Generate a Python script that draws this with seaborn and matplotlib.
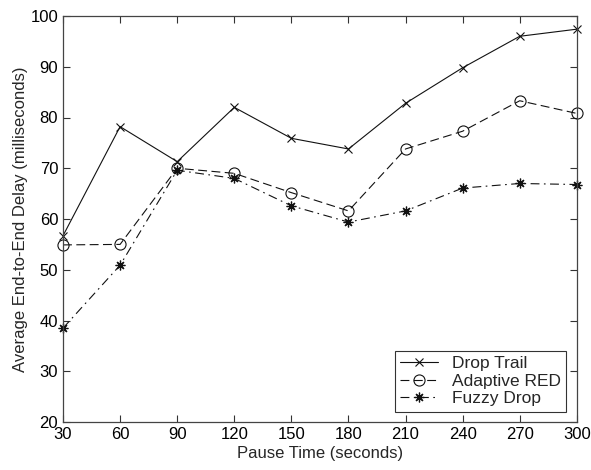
import numpy as np
import pandas as pd
import seaborn as sns
import matplotlib.pyplot as plt

pause = [30, 60, 90, 120, 150, 180, 210, 240, 270, 300]
drop_trail = [56.7, 78.2, 71.3, 82.0, 75.9, 73.8, 82.8, 89.8, 96.0, 97.4]
adaptive_red = [54.9, 55.0, 70.0, 69.0, 65.2, 61.6, 73.8, 77.3, 83.3, 80.8]
fuzzy_drop = [38.5, 50.9, 69.6, 68.0, 62.6, 59.4, 61.6, 66.1, 67.0, 66.8]

sns.set_style("ticks")
plt.rcParams['font.family'] = ['Liberation Sans', 'DejaVu Sans']

fig = plt.figure(figsize=(5.91, 4.70), dpi=100)
ax = fig.add_axes([0.1066, 0.102, 0.8694, 0.864])

col = '#111111'
sns.lineplot(x=pause, y=drop_trail, ax=ax, color=col, lw=0.8, marker='x',
             markersize=5.5, markeredgecolor=col, markeredgewidth=0.8,
             label='Drop Trail', clip_on=False)
sns.lineplot(x=pause, y=adaptive_red, ax=ax, color=col, lw=0.8, marker='o',
             markersize=8, markerfacecolor='none', markeredgecolor=col,
             markeredgewidth=0.8, dashes=(8, 4), label='Adaptive RED',
             clip_on=False)
sns.lineplot(x=pause, y=fuzzy_drop, ax=ax, color=col, lw=0.8, marker=(8, 2, 0),
             markersize=7, markeredgecolor=col, markeredgewidth=0.9,
             dashes=(8, 4, 1.5, 4), label='Fuzzy Drop', clip_on=False)

ax.set_xlim(30, 300)
ax.set_ylim(20, 100)
ax.set_xticks(pause)
ax.set_yticks(range(20, 101, 10))
ax.tick_params(direction='in', top=True, right=True, labelsize=12, length=5,
               width=0.8, colors='#333333', labelcolor='black')
for s in ax.spines.values():
    s.set_visible(True)
    s.set_color('#444444')
    s.set_linewidth(0.9)
ax.set_xlabel('Pause Time (seconds)', fontsize=12, labelpad=3)
ax.set_ylabel('Average End-to-End Delay (milliseconds)', fontsize=12, labelpad=2)

leg = ax.legend(loc='lower right', fontsize=12.5, frameon=True, fancybox=False,
                handlelength=2.2, borderpad=0.3, labelspacing=0.15,
                borderaxespad=0.6)
leg.get_frame().set_edgecolor('black')
leg.get_frame().set_linewidth(0.8)

fig.savefig('out.png', dpi=100)
